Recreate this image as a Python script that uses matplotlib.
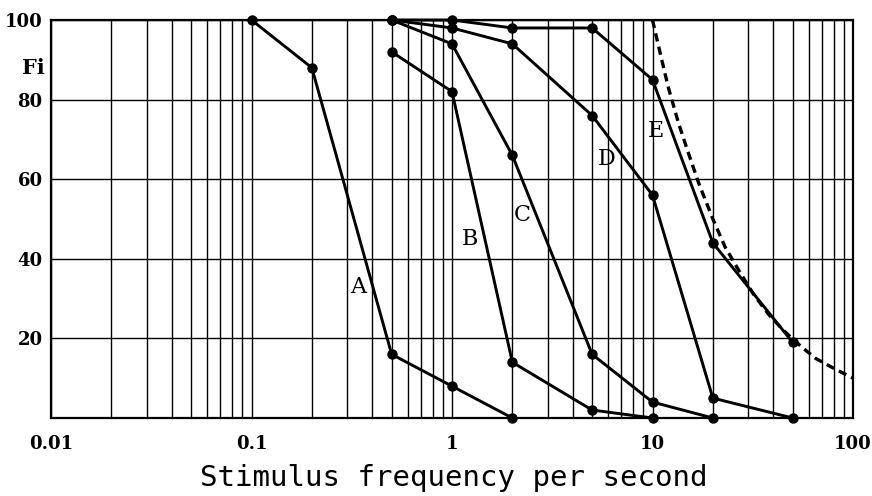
import numpy as np
import matplotlib.pyplot as plt
from matplotlib.ticker import FixedLocator, NullFormatter

# curves A-E: stimulus frequency (per s) vs Fi
freq_a = [0.1, 0.2, 0.5, 1, 2]
fi_a = [100, 88, 16, 8, 0]
freq_b = [0.5, 1, 2, 5, 10]
fi_b = [92, 82, 14, 2, 0]
freq_c = [0.5, 1, 2, 5, 10, 20]
fi_c = [100, 94, 66, 16, 4, 0]
freq_d = [0.5, 1, 2, 5, 10, 20, 50]
fi_d = [100, 98, 94, 76, 56, 5, 0]
freq_e = [0.5, 1, 2, 5, 10, 20, 50]
fi_e = [100, 100, 98, 98, 85, 44, 19]

# dashed limit curve
freq_lim = [10, 11, 12, 13.5, 15, 17, 20, 23, 27, 32, 38, 45, 55, 65, 80, 100]
fi_lim = [100, 91, 83, 74, 67, 59, 50, 43, 37, 31, 26, 22, 18, 15, 12.5, 10]

labels = ['A', 'B', 'C', 'D', 'E']
label_x = [0.34, 1.23, 2.25, 5.9, 10.4]
label_y = [33, 45, 51, 65, 72]

xticks = [0.01, 0.1, 1, 10, 100]
xtick_labels = ['0.01', '0.1', '1', '10', '100']
yticks = [20, 40, 60, 80, 100]

fig = plt.figure(figsize=(8.72, 4.96), dpi=100)
ax = fig.add_axes([51 / 872, 1 - 418 / 496, (853 - 51) / 872, (418 - 20) / 496])

ax.set_xscale('log')
ax.set_xlim(0.01, 100)
ax.set_ylim(0, 100)

# grid: every log minor line + horizontal lines every 20
minor = [m * 10.0 ** e for e in range(-2, 2) for m in range(2, 10)]
ax.xaxis.set_major_locator(FixedLocator(xticks))
ax.xaxis.set_minor_locator(FixedLocator(minor))
ax.xaxis.set_minor_formatter(NullFormatter())
ax.set_xticklabels(xtick_labels)
ax.set_yticks(yticks)
ax.grid(True, which='both', axis='x', color='black', linewidth=1.0)
ax.grid(True, which='major', axis='y', color='black', linewidth=1.0)
ax.set_axisbelow(True)
ax.tick_params(which='both', length=0)
ax.tick_params(axis='x', pad=12)
ax.tick_params(axis='y', pad=6)
for lab in ax.get_xticklabels() + ax.get_yticklabels():
    lab.set_fontfamily('DejaVu Serif')
    lab.set_fontweight('bold')
    lab.set_fontsize(13)
for sp in ax.spines.values():
    sp.set_linewidth(1.6)

series = [(freq_a, fi_a), (freq_b, fi_b), (freq_c, fi_c), (freq_d, fi_d), (freq_e, fi_e)]
for xs, ys in series:
    ax.plot(xs, ys, color='black', linewidth=2.1, marker='o', markersize=6.5,
            clip_on=False, zorder=3)

ax.plot(freq_lim, fi_lim, color='black', linewidth=2.4, linestyle=(0, (2.5, 1.6)),
        zorder=3)

for t, lx, ly in zip(labels, label_x, label_y):
    ax.text(lx, ly, t, fontsize=16, family='DejaVu Serif', ha='center', va='center',
            zorder=4)

ax.text(-0.008, 88, 'Fi', transform=ax.get_yaxis_transform(), ha='right', va='center',
        fontsize=15, family='DejaVu Serif', fontweight='bold')

fig.text(454 / 872, 1 - 486 / 496, 'Stimulus frequency per second', ha='center',
         va='baseline', fontsize=21, family='DejaVu Sans Mono')

fig.savefig('out.png', dpi=100)
